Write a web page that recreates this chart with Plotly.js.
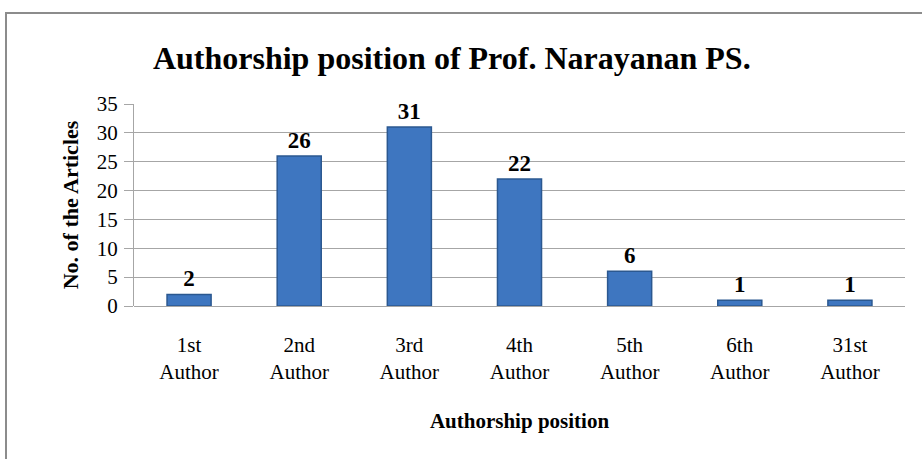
<!DOCTYPE html>
<html>
<head>
<meta charset="utf-8">
<script src="https://cdn.plot.ly/plotly-3.0.1.min.js"></script>
<style>
  html, body { margin: 0; padding: 0; background: #fff; }
  #frame { position: absolute; left: 5px; top: 12px; width: 930px; height: 460px; border: 2px solid #8c8c8c; box-sizing: border-box; pointer-events: none; z-index: 10; }
  #chart { width: 922px; height: 459px; }
</style>
</head>
<body>
<div id="frame"></div>
<div id="chart"></div>
<script>
const categories = ["1st<br>Author", "2nd<br>Author", "3rd<br>Author", "4th<br>Author", "5th<br>Author", "6th<br>Author", "31st<br>Author"];
const articles = [2, 26, 31, 22, 6, 1, 1];
const yTicks = [0, 5, 10, 15, 20, 25, 30, 35];

const trace = {
  type: "bar",
  x: categories,
  y: articles,
  width: 0.4,
  marker: {
    color: "#3e76c0",
    line: { color: "#2b5890", width: 1.5 }
  },
  text: articles.map(String),
  textposition: "outside",
  cliponaxis: false,
  textfont: { family: "Liberation Serif", size: 23, color: "#000" },
  texttemplate: "<b>%{text}</b>",
  hoverinfo: "none"
};

const layout = {
  width: 922,
  height: 459,
  margin: { l: 134, r: 17, t: 104, b: 153 },
  paper_bgcolor: "#fff",
  plot_bgcolor: "#fff",
  showlegend: false,
  bargap: 0.6,
  title: {
    text: "<b>Authorship position of Prof. Narayanan PS.</b>",
    font: { family: "Liberation Serif", size: 32, color: "#000" },
    x: 0.49, xanchor: "center", y: 0.875, yanchor: "middle"
  },
  xaxis: {
    type: "category",
    showgrid: false,
    showline: false,
    ticks: "",
    tickfont: { family: "Liberation Serif", size: 21, color: "#000" },
    ticklabelstandoff: 24,
    title: {
      text: "<b>Authorship position</b>",
      font: { family: "Liberation Serif", size: 21, color: "#000" },
      standoff: 30
    }
  },
  yaxis: {
    range: [0, 35],
    tickvals: yTicks,
    ticktext: yTicks.map(String),
    showgrid: true,
    gridcolor: "#a6a6a6",
    gridwidth: 1,
    zeroline: true,
    zerolinecolor: "#a6a6a6",
    zerolinewidth: 1,
    showline: true,
    linecolor: "#a6a6a6",
    ticks: "outside",
    ticklen: 9,
    tickcolor: "#a6a6a6",
    tickfont: { family: "Liberation Serif", size: 21, color: "#000" },
    ticklabelstandoff: 2,
    title: {
      text: "<b>No. of the Articles</b>",
      font: { family: "Liberation Serif", size: 22, color: "#000" },
      standoff: 12
    }
  }
};

Plotly.newPlot("chart", [trace], layout, { displayModeBar: false, staticPlot: true });
</script>
</body>
</html>
